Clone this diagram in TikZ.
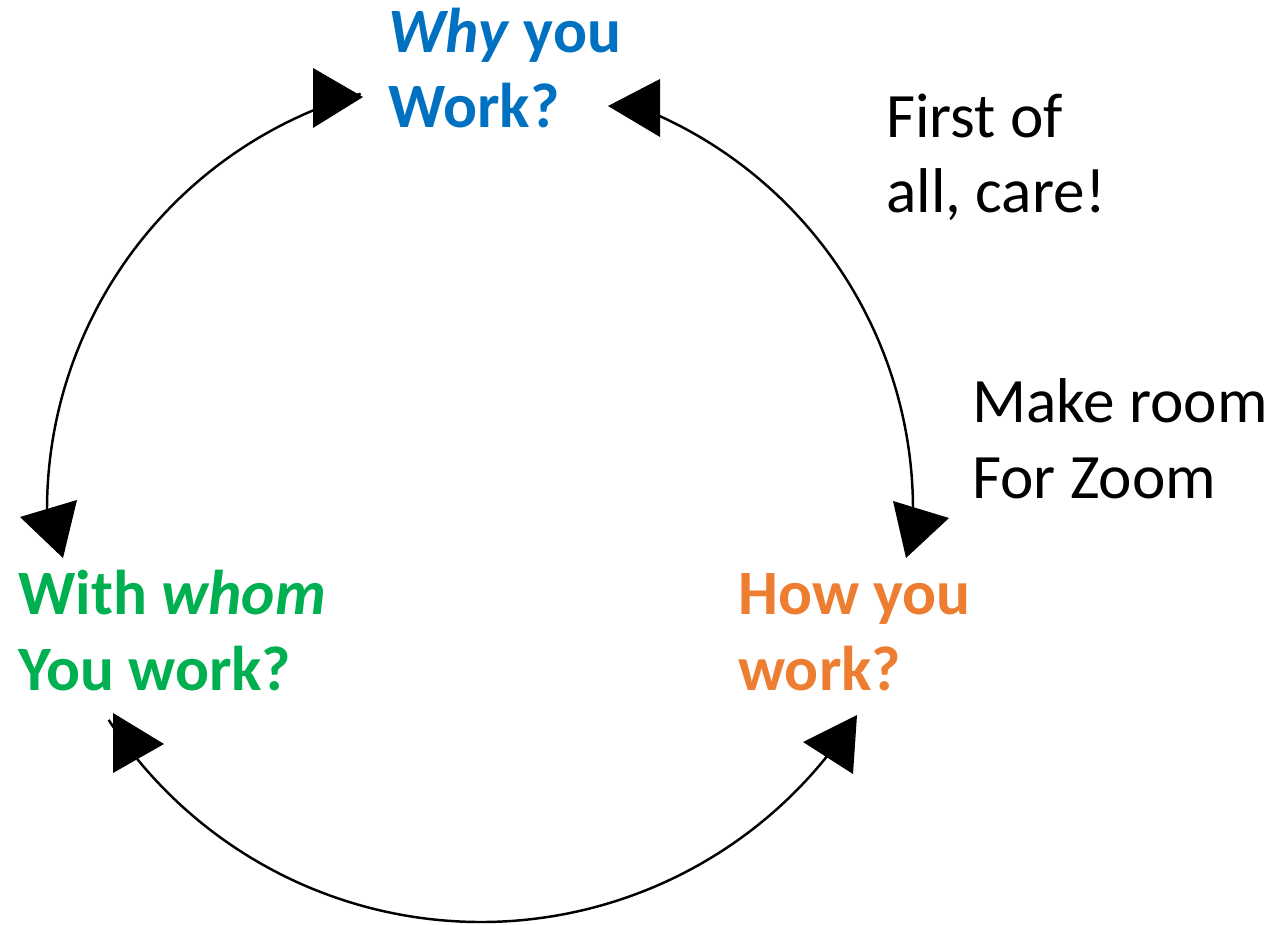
\documentclass[tikz,border=0pt]{standalone}
\usepackage{fontspec}
\setmainfont{Carlito}
\definecolor{whyblue}{HTML}{0070C0}
\definecolor{withgreen}{HTML}{00B050}
\definecolor{howorange}{HTML}{ED7D31}
\begin{document}
\begin{tikzpicture}[x=0.02cm,y=-0.02cm,
  lbl/.style={anchor=base west, align=left, inner sep=0pt, font=\fontsize{36}{43}\selectfont},
  cyc/.style={lbl, font=\fontsize{36}{43}\selectfont\bfseries},
  conn/.style={line width=1.4pt},
  head/.style={fill=black, draw=none}]
\useasboundingbox (0,0) rectangle (1273,925);

% labels (anchor = baseline of the last line)
\node[cyc, text=whyblue]    (why)  at (388,128) {\textit{Why} you\\Work?};
\node[cyc, text=withgreen]  (with) at (18,690)  {With \textit{whom}\\You work?};
\node[cyc, text=howorange]  (how)  at (738,690) {How you\\work?};
\node[lbl]                  (care) at (886,213) {First of\\all, care!};
\node[lbl]                  (zoom) at (972,498) {Make room\\For Zoom};

% arc end points
\coordinate (lA) at (47,510);
\coordinate (rA) at ({480+433*cos(293)},{510+433*sin(293)});
\coordinate (bA) at ({481+444*cos(37)},{478+444*sin(37)});

% arcs
\draw[conn] (lA) arc[start angle=180, end angle=254, radius=433] coordinate (lB);
\draw[conn] (rA) arc[start angle=293, end angle=360, radius=433] coordinate (rB);
\draw[conn] (bA) arc[start angle=37, end angle=147, radius=444] coordinate (bB);

% arrow heads
\path[head] (313,68) -- (363,97) -- (313,128) -- cycle;
\path[head] (608,106) -- (660,79) -- (660,137) -- cycle;
\path[head] (893,501) -- (949,518) -- (906,558) -- cycle;
\path[head] (20,517) -- (77,500) -- (63,558) -- cycle;
\path[head] (113,713) -- (164,744) -- (113,773) -- cycle;
\path[head] (803,742) -- (857,715) -- (853,774) -- cycle;
\end{tikzpicture}
\end{document}
